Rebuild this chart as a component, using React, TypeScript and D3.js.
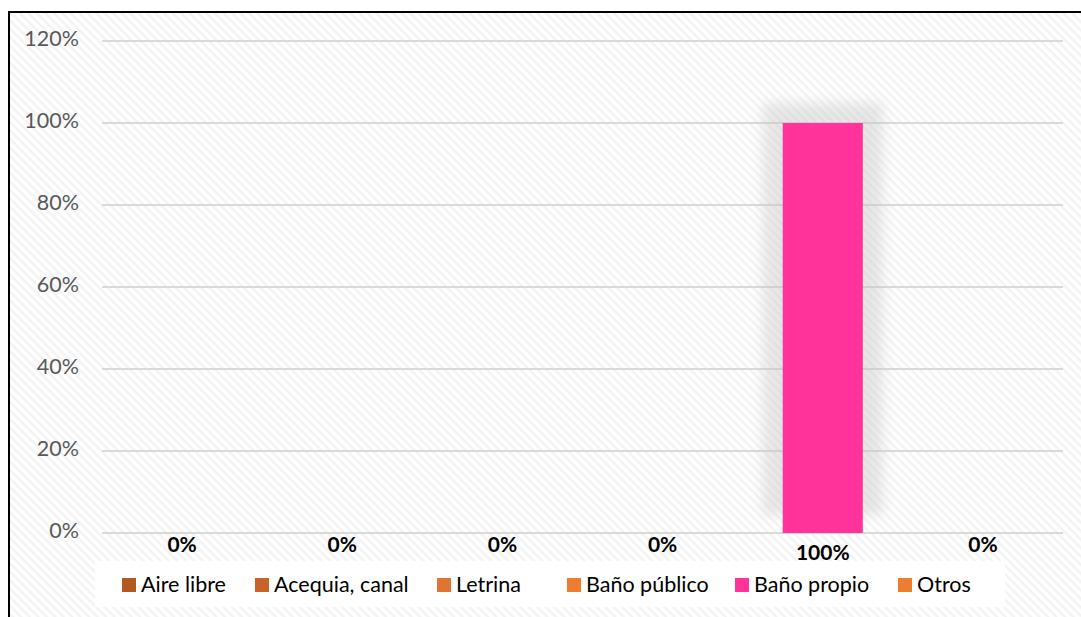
import React from "react";
import * as d3 from "d3";

const categories = ["Aire libre", "Acequia, canal", "Letrina", "Baño público", "Baño propio", "Otros"];
const values = [0, 0, 0, 0, 1, 0];
const colors = ["#B05A22", "#C8632A", "#E07430", "#EE7D31", "#FF3399", "#ED7D31"];
const yTicks = [0, 0.2, 0.4, 0.6, 0.8, 1.0, 1.2];
const legendX = [122, 255, 437, 567, 735, 898];

const W = 1081;
const H = 617;
const FONT = "Lato, 'Open Sans', sans-serif";

export default function App() {
  const x = d3.scaleBand<string>().domain(categories).range([102, 1063]).paddingInner(0.5).paddingOuter(0.25);
  const y = d3.scaleLinear().domain([0, 1.2]).range([533, 41]);
  const fmt = d3.format(".0%");

  return (
    <svg width={W} height={H} style={{ position: "fixed", left: 0, top: 0, background: "#fff" }}>
      <defs>
        <pattern id="bgp" width="6" height="6" patternUnits="userSpaceOnUse" patternTransform="rotate(45)">
          <rect width="6" height="6" fill="#ffffff" />
          <rect width="6" height="2.5" fill="#f3f3f3" />
        </pattern>
        <filter id="glow" x="-50%" y="-50%" width="200%" height="200%">
          <feGaussianBlur stdDeviation="6" />
        </filter>
      </defs>
      <rect x={9} y={12} width={W} height={H} fill="url(#bgp)" />
      <rect x={9} y={12} width={W + 10} height={H + 10} fill="none" stroke="#000" strokeWidth={2} />

      {yTicks.map((t) => (
        <g key={t}>
          <line x1={102} x2={1063} y1={y(t)} y2={y(t)} stroke="#d9d9d9" strokeWidth={2} />
          <text x={79} y={y(t)} textAnchor="end" dominantBaseline="middle" fontFamily={FONT} fontSize={21.5} fill="#595959">
            {fmt(t)}
          </text>
        </g>
      ))}

      {categories.map((c, i) =>
        values[i] > 0 ? (
          <g key={c}>
            <rect
              x={x(c)! - 20}
              y={y(values[i]) - 20}
              width={x.bandwidth() + 40}
              height={y(0) - y(values[i]) + 2}
              fill="#c4c4c4"
              opacity={0.4}
              filter="url(#glow)"
            />
            <rect x={x(c)!} y={y(values[i])} width={x.bandwidth()} height={y(0) - y(values[i])} fill={colors[i]} />
          </g>
        ) : null
      )}

      {categories.map((c, i) => (
        <text
          key={c}
          x={x(c)! + x.bandwidth() / 2}
          y={values[i] > 0 ? 560 : 552}
          textAnchor="middle"
          fontFamily={FONT}
          fontWeight="bold"
          fontSize={21}
          fill="#000"
        >
          {fmt(values[i])}
        </text>
      ))}

      <rect x={95} y={561} width={910} height={46} fill="#ffffff" opacity={0.85} />
      {categories.map((c, i) => (
        <g key={c}>
          <rect x={legendX[i]} y={578} width={14} height={14} fill={colors[i]} />
          <text x={legendX[i] + 19} y={592} fontFamily={FONT} fontSize={21.5} fill="#000">
            {c}
          </text>
        </g>
      ))}
    </svg>
  );
}
